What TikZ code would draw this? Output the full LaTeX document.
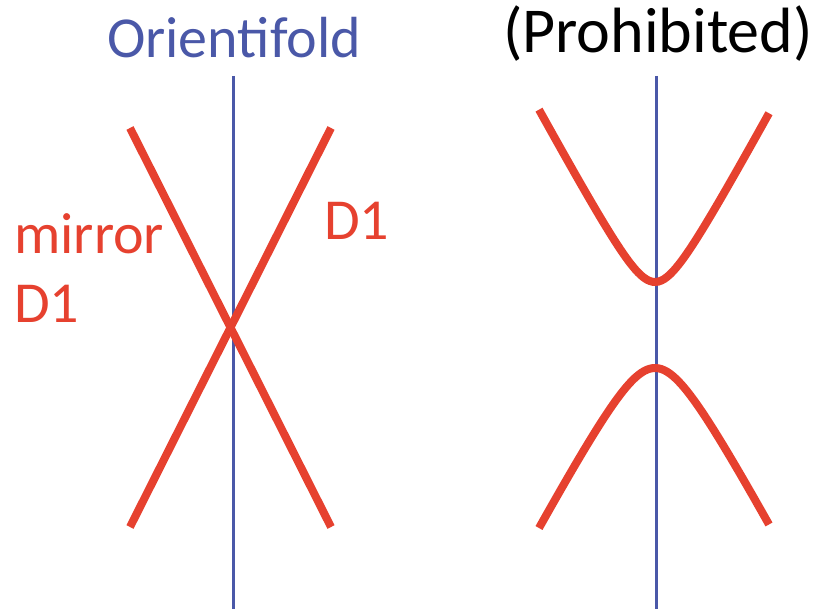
\documentclass[tikz,border=0pt]{standalone}
\usepackage{fontspec}
\setmainfont{Carlito}
\usepackage{tikz}

\definecolor{branered}{HTML}{E6412F}
\definecolor{ofblue}{HTML}{4A58A8}

\begin{document}
\begin{tikzpicture}[x=1pt,y=-1pt,
    brane/.style={line width=8pt, color=branered},
    ofold/.style={line width=3pt, color=ofblue},
    lbl/.style={inner sep=0pt, anchor=base west, font=\fontsize{58}{62}\selectfont}]
    \useasboundingbox (0,0) rectangle (830,609);

    % orientifold planes
    \coordinate (oA top) at (233,76);
    \coordinate (oA bot) at (233,609);
    \coordinate (oB top) at (656,76);
    \coordinate (oB bot) at (656,609);
    \draw [ofold] (oA top) -- (oA bot);
    \draw [ofold] (oB top) -- (oB bot);

    % D1 and its mirror
    \coordinate (d1 top) at (331,128);
    \coordinate (d1 bot) at (130,527);
    \coordinate (m1 top) at (130,128);
    \coordinate (m1 bot) at (331,527);
    \draw [brane] (m1 top) -- (m1 bot);
    \draw [brane] (d1 top) -- (d1 bot);

    % reconnected branes
    \draw [brane] plot[domain=-116:114, samples=80]
        ({655+\x}, {282-46*(sqrt(1+(\x/25)^2)-1)});
    \draw [brane] plot[domain=-116:114, samples=80]
        ({655+\x}, {368+65*(sqrt(1+(\x/35)^2)-1)});

    % labels
    \node [lbl, color=branered] (mirror) at (14,254) {mirror};
    \node [lbl, color=branered] (mirrorD) at (14,323) {D1};
    \node [lbl, color=branered] (D) at (324,240) {D1};
    \node [lbl, anchor=base, color=ofblue] (oflabel) at (234,58) {Orientifold};
    \node [lbl, anchor=base, font=\fontsize{64}{68}\selectfont] (prohib) at (658,53) {(Prohibited)};
\end{tikzpicture}
\end{document}
